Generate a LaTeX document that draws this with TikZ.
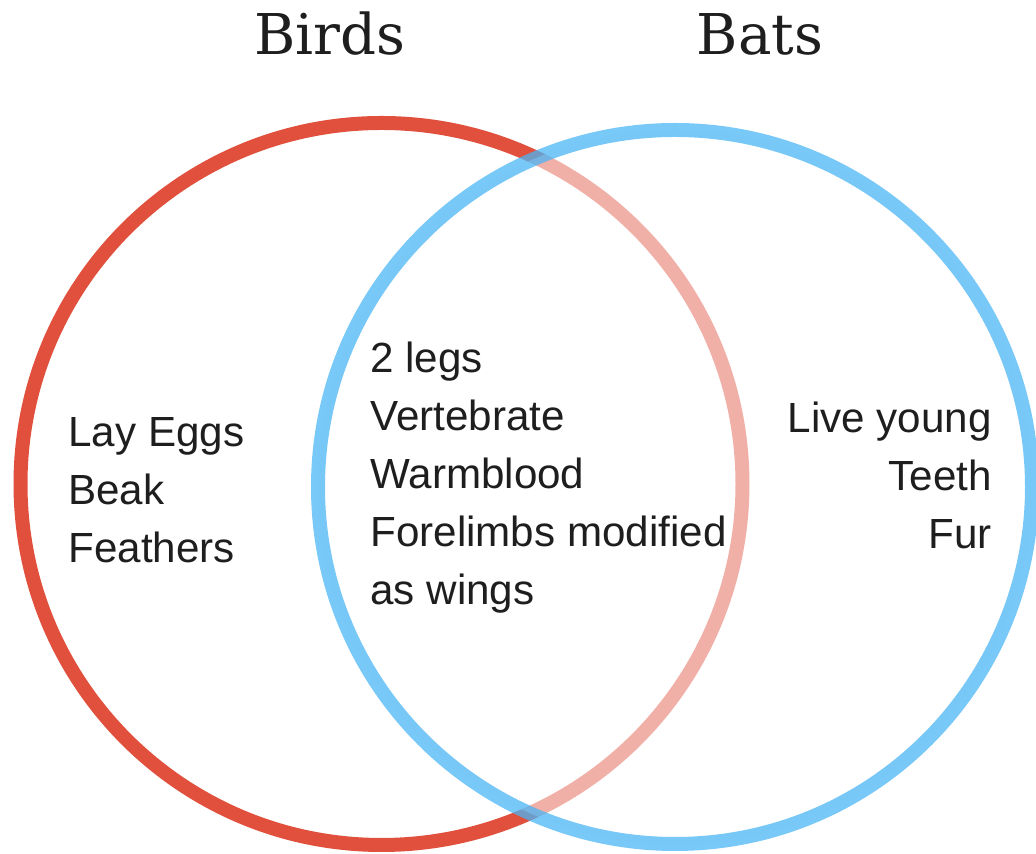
\documentclass[tikz,border=0pt]{standalone}
\usepackage{fontspec}
\newfontfamily\bodyfont{Liberation Sans}
\newfontfamily\headfont{DejaVu Serif}
\usepackage{tikz}
\usetikzlibrary{positioning}
\usepackage{xcolor}
\definecolor{birdred}{RGB}{224,80,60}
\definecolor{batblue}{RGB}{75,181,245}
\definecolor{inktext}{RGB}{30,30,30}

\begin{document}
\begin{tikzpicture}[x=0.02cm, y=0.02cm,
  title/.style={font=\headfont\fontsize{32}{38}\selectfont, text=inktext, anchor=base},
  facts/.style={font=\bodyfont\fontsize{24}{33}\selectfont, text=inktext, inner sep=0pt}]
  \useasboundingbox (0,0) rectangle (1036,854);
  % the two sets
  \draw[birdred, line width=0.28cm] (381.5,370) circle[radius=361];
  \fill[white, opacity=0.55] (675,367) circle[radius=357];
  \draw[batblue, line width=0.28cm, opacity=0.75] (675,367) circle[radius=357];
  % headings
  \node[title] (birds) at (330,799) {Birds};
  \node[title] (bats) at (760,799) {Bats};
  % contents
  \node[facts, align=left, anchor=north west] (onlybirds) at (68,437) {Lay Eggs\\Beak\\Feathers};
  \node[facts, align=left, anchor=north west] (both) at (370,512) {2 legs\\Vertebrate\\Warmblood\\Forelimbs modified\\as wings};
  \node[facts, align=right, anchor=north east] (onlybats) at (992,452) {Live young\\Teeth\\Fur};
\end{tikzpicture}
\end{document}
